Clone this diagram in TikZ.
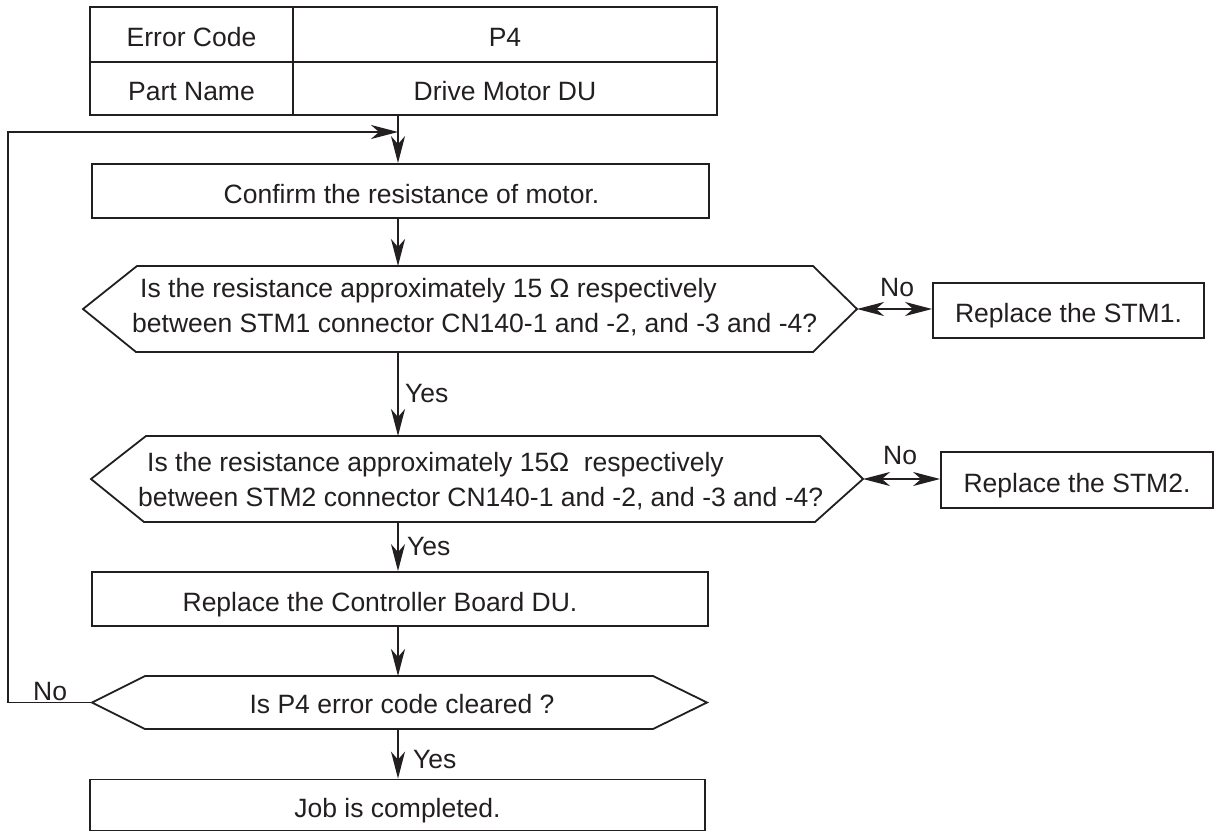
\documentclass[tikz,border=0pt]{standalone}
\usepackage{fontspec}
\setmainfont{Liberation Sans}
\usetikzlibrary{arrows.meta}
\definecolor{ink}{RGB}{35,31,32}
\begin{document}
\begin{tikzpicture}[x=1pt,y=-1pt,
  every node/.style={font=\fontsize{26.5}{32}\selectfont, inner sep=0pt, text=ink},
  box/.style={draw=ink, line width=1.8pt, text height=24pt, text depth=0pt},
  hexa/.style={draw=ink, line width=1.8pt, line join=miter},
  conn/.style={draw=ink, line width=1.8pt},
  arr/.style={conn, -{Stealth[length=27pt,width=14pt,inset=8pt]}},
  darr/.style={conn, {Stealth[length=27pt,width=14pt,inset=8pt]}-{Stealth[length=27pt,width=14pt,inset=8pt]}},
  lbl/.style={anchor=base west}
]
\useasboundingbox (0,0) rectangle (1215,832);

% table
\node[box, minimum width=203pt, minimum height=55pt] (ec) at (191.5,34.5) {Error Code};
\node[box, minimum width=424pt, minimum height=55pt] (pc) at (505,34.5) {P4};
\node[box, minimum width=203pt, minimum height=53pt] (pn) at (191.5,88.5) {Part Name};
\node[box, minimum width=424pt, minimum height=53pt] (dm) at (505,88.5) {Drive Motor DU};

% box 1
\node[box, minimum width=617pt, minimum height=54pt] (b1) at (400.5,191) {\hspace*{22pt}Confirm the resistance of motor.};

% hexagon 1
\coordinate (h1w) at (83,309); \coordinate (h1e) at (857,309);
\coordinate (h1n) at (398,266); \coordinate (h1s) at (398,352);
\draw[hexa] (h1w) -- (137,266) -- (813,266) -- (h1e) -- (813,352) -- (136,352) -- cycle;
\node[lbl] (q1a) at (140,297) {Is the resistance approximately 15 Ω respectively};
\node[lbl] (q1b) at (132,332) {between STM1 connector CN140-1 and -2, and -3 and -4?};

\node[box, minimum width=271pt, minimum height=55pt] (s1) at (1068.5,310.5) {Replace the STM1.};
\node[lbl] (no1) at (880,296) {No};

% hexagon 2
\coordinate (h2w) at (91,479); \coordinate (h2e) at (863,479);
\coordinate (h2n) at (398,436); \coordinate (h2s) at (398,522);
\draw[hexa] (h2w) -- (146,436) -- (820,436) -- (h2e) -- (815,522) -- (144,522) -- cycle;
\node[lbl] (q2a) at (147,471) {Is the resistance approximately 15Ω\hspace{0.556em}respectively};
\node[lbl] (q2b) at (138,506) {between STM2 connector CN140-1 and -2, and -3 and -4?};

\node[box, minimum width=272pt, minimum height=56pt] (s2) at (1077,480) {Replace the STM2.};
\node[lbl] (no2) at (883,464) {No};

% box 2
\node[box, minimum width=616pt, minimum height=54pt] (b2) at (400,599) {Replace the Controller Board DU.\hspace*{40pt}};

% hexagon 3
\coordinate (h3w) at (92,702.5); \coordinate (h3e) at (707,702.5);
\coordinate (h3n) at (398,676); \coordinate (h3s) at (398,729);
\draw[hexa] (h3w) -- (145,676) -- (653,676) -- (h3e) -- (653,729) -- (145,729) -- cycle;
\node[anchor=base] (q3) at (402,713) {Is P4 error code cleared ?};

% box 3
\node[box, minimum width=615pt, minimum height=51pt] (b3) at (397.5,805) {Job is completed.};

% labels
\node[lbl] (yes1) at (405,402) {Yes};
\node[lbl] (yes2) at (407,555) {Yes};
\node[lbl] (yes3) at (413,768) {Yes};
\node[lbl] (no3) at (33,700) {No};

% connectors
\coordinate (lp1) at (8,702.5);
\coordinate (lp2) at (8,132);
\coordinate (lpend) at (398,132);
\draw[arr] (h1n |- dm.south) -- (h1n |- b1.north);
\draw[arr] (h3w) -- (lp1) -- (lp2) -- (lpend);
\draw[arr] (h1n |- b1.south) -- (h1n);
\draw[darr] (h1e) -- (h1e -| s1.west);
\draw[arr] (h1s) -- (h2n);
\draw[darr] (h2e) -- (h2e -| s2.west);
\draw[arr] (h2s) -- (h2s |- b2.north);
\draw[arr] (h3n |- b2.south) -- (h3n);
\draw[arr] (h3s) -- (h3s |- b3.north);
\end{tikzpicture}
\end{document}
